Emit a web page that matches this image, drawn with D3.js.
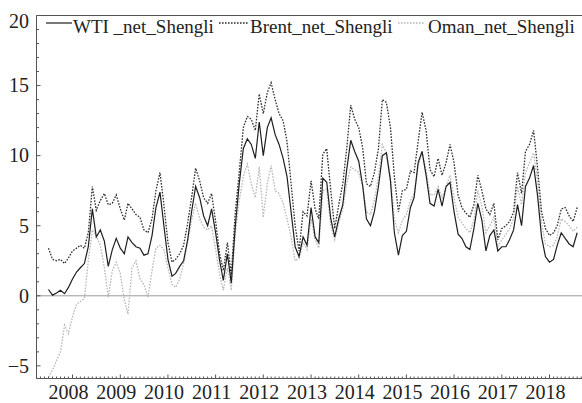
<!DOCTYPE html>
<html>
<head>
<meta charset="utf-8">
<script src="https://cdn.jsdelivr.net/npm/d3@7"></script>
<style>
	body { margin: 0; background: #fff; }
	svg { display: block; }
	text { font-family: "Liberation Serif", "Times New Roman", serif; fill: #222; }
</style>
</head>
<body>
<div id="chart"></div>
<script>
var W = 582;
var H = 403;

// monthly, Jul 2007 .. Aug 2018
var startYear = 2007;
var startMonth = 6;

var wti = [0.45, 0.05, 0.2, 0.4, 0.15, 0.6, 1.2, 1.7, 2.0, 2.3, 3.5, 6.2,
	4.2, 4.7, 3.9, 2.1, 3.3, 4.1, 3.4, 3.0, 4.2, 3.8, 3.5, 3.4,
	2.9, 3.0, 4.3, 6.3, 7.4, 5.0, 2.6, 1.4, 1.6, 2.1, 2.5, 4.0,
	6.0, 7.8, 7.0, 5.7, 5.0, 6.2, 4.5, 2.5, 1.1, 3.0, 0.9, 5.0,
	8.0, 10.5, 11.2, 10.8, 9.8, 12.4, 10.0, 12.0, 12.7, 11.5, 10.8, 9.8,
	8.5, 6.0, 3.5, 2.8, 4.2, 3.6, 6.3, 4.2, 3.8, 8.4, 8.1, 5.5,
	4.2, 5.5, 6.5, 9.0, 11.1, 10.3, 9.6, 7.8, 5.5, 5.0, 6.0, 7.8,
	10.0, 10.2, 8.2, 4.5, 2.9, 4.3, 4.6, 6.3, 7.0, 9.5, 10.3, 8.6,
	6.6, 6.4, 7.6, 6.4, 7.8, 8.1, 6.0, 4.4, 4.1, 3.5, 3.3, 4.8,
	6.6, 5.4, 3.2, 4.3, 4.7, 3.2, 3.5, 3.5, 4.0, 4.7, 6.5, 5.0,
	7.8, 8.4, 9.3, 7.2, 4.2, 2.8, 2.4, 2.6, 3.6, 4.5, 4.1, 3.7,
	3.5, 4.5];

var brent = [3.4, 2.6, 2.5, 2.6, 2.3, 2.7, 3.2, 3.4, 3.6, 3.4, 4.5, 7.8,
	6.1, 6.8, 7.3, 6.5, 6.6, 7.2, 6.2, 5.4, 6.6, 6.2, 5.8, 5.6,
	4.7, 4.5, 5.5, 7.5, 8.8, 6.5, 3.8, 2.4, 2.6, 3.0, 3.6, 5.2,
	7.0, 9.1, 8.2, 7.0, 6.6, 7.3, 5.3, 3.0, 1.8, 3.8, 1.5, 6.0,
	8.8, 12.0, 12.8, 12.6, 11.8, 14.4, 13.0, 14.5, 15.2, 14.0, 13.0, 12.5,
	11.0, 8.0, 5.0, 3.2, 6.0, 5.7, 8.2, 6.2, 5.5, 10.1, 10.5, 7.5,
	4.8, 6.5, 8.0, 10.5, 13.6, 12.6, 12.0, 10.5, 8.0, 7.8, 8.8, 10.5,
	14.0, 13.8, 12.0, 8.5, 6.0, 7.5, 7.6, 8.9, 8.8, 11.0, 13.1, 11.8,
	9.0, 8.5, 9.8, 8.6, 9.5, 10.8, 9.5, 7.2, 6.3, 5.9, 5.6, 6.5,
	8.6, 7.5, 6.2, 5.8, 6.6, 4.0, 4.8, 5.0, 5.3, 6.0, 8.8, 7.3,
	10.3, 10.8, 11.8, 9.2, 6.0, 4.8, 4.3, 4.5, 5.0, 6.2, 6.3, 5.7,
	5.3, 6.3];

var oman = [-5.8, -5.3, -4.6, -4.0, -2.1, -2.7, -1.5, -0.6, -0.4, -0.2, 2.5, 4.7,
	4.3, 3.6, 2.0, -0.1, 1.8, 2.4, 1.6, -0.3, -1.3, 2.0, 2.5, 1.2,
	0.8, -0.1, 1.8, 3.4, 3.6, 3.3, 2.0, 0.8, 0.6, 1.2, 2.3, 3.8,
	5.4, 6.6, 5.5, 4.9, 4.7, 5.0, 3.3, 1.5, 0.4, 2.0, 0.4, 4.5,
	6.8, 8.5, 9.4, 8.0, 7.0, 9.2, 5.6, 8.0, 9.3, 7.5, 7.3, 6.6,
	5.5, 4.2, 2.5, 2.7, 3.8, 3.3, 5.5, 4.0, 3.4, 7.5, 7.6, 5.0,
	4.0, 5.2, 6.2, 8.0, 9.2, 9.0, 8.8, 7.8, 6.0, 5.8, 6.8, 8.5,
	10.8, 10.2, 8.5, 5.5, 4.5, 5.4, 5.8, 6.8, 7.3, 9.2, 10.3, 9.0,
	7.2, 7.2, 7.8, 7.0, 7.8, 8.6, 7.0, 5.6, 5.2, 4.8, 4.5, 5.4,
	7.5, 6.4, 4.5, 5.0, 5.6, 3.5, 4.0, 4.4, 4.8, 5.5, 7.8, 6.5,
	8.8, 9.5, 10.2, 8.2, 5.2, 3.7, 3.5, 3.6, 4.2, 5.5, 5.3, 5.0,
	4.6, 4.9];

var seriesNames = ["WTI _net_Shengli", "Brent_net_Shengli", "Oman_net_Shengli"];
var seriesColors = ["#1e1e1e", "#2e2e2e", "#b8b8b8"];
var seriesDash = [null, "1.6,1.4", "1.6,1.4"];
var yTicks = [-5, 0, 5, 10, 15, 20];
var yearLabels = [2008, 2009, 2010, 2011, 2012, 2013, 2014, 2015, 2016, 2017, 2018];

// plot box (window.top is reserved, so prefixed names)
var pLeft = 36.5, pRight = 584, pTop = 15.5, pBottom = 378.5;

var svg = d3.select("#chart").append("svg")
	.attr("width", W)
	.attr("height", H);

var x = d3.scaleTime()
	.domain([new Date(2008, 0, 1), new Date(2018, 0, 1)])
	.range([72.5, 549.5]);

var y = d3.scaleLinear()
	.domain([-5.9, 20])
	.range([pBottom, pTop]);

function toPoints(arr) {
	return arr.map((v, i) => ({date: new Date(startYear, startMonth + i, 1), value: v}));
}
var series = [toPoints(wti), toPoints(brent), toPoints(oman)];

// zero line
svg.append("line")
	.attr("x1", pLeft).attr("x2", pRight)
	.attr("y1", y(0)).attr("y2", y(0))
	.attr("stroke", "#9a9a9a")
	.attr("stroke-width", 1);

var line = d3.line()
	.x(d => x(d.date))
	.y(d => y(d.value));

// draw grey first so darker lines sit on top
[2, 1, 0].forEach(k => {
	svg.append("path")
		.datum(series[k])
		.attr("d", line)
		.attr("fill", "none")
		.attr("stroke", seriesColors[k])
		.attr("stroke-width", k === 0 ? 1.2 : 1.3)
		.attr("stroke-dasharray", seriesDash[k]);
});

// frame
svg.append("line")
	.attr("x1", pLeft).attr("x2", pRight)
	.attr("y1", pTop).attr("y2", pTop)
	.attr("stroke", "#555").attr("stroke-width", 1);
svg.append("line")
	.attr("x1", pLeft).attr("x2", pLeft)
	.attr("y1", pTop).attr("y2", pBottom)
	.attr("stroke", "#555").attr("stroke-width", 1);
svg.append("line")
	.attr("x1", pLeft).attr("x2", pRight)
	.attr("y1", pBottom).attr("y2", pBottom)
	.attr("stroke", "#555").attr("stroke-width", 1);

// y ticks
svg.selectAll(".ymin")
	.data(d3.range(-5, 21))
	.enter()
	.append("line")
	.attr("x1", pLeft).attr("x2", d => pLeft + (d % 5 === 0 ? 4 : 2.5))
	.attr("y1", d => y(d)).attr("y2", d => y(d))
	.attr("stroke", "#555");

svg.selectAll(".ylab")
	.data(yTicks)
	.enter()
	.append("text")
	.attr("x", 29)
	.attr("y", d => Math.max(y(d), 21))
	.attr("dy", "0.34em")
	.attr("text-anchor", "end")
	.style("font-size", "20px")
	.text(d => d < 0 ? "\u2212" + Math.abs(d) : d);

// x ticks
var months = d3.timeMonth.range(x.invert(pLeft), x.invert(pRight));
svg.selectAll(".xmin")
	.data(months)
	.enter()
	.append("line")
	.attr("x1", d => x(d)).attr("x2", d => x(d))
	.attr("y1", pBottom).attr("y2", d => pBottom - (d.getMonth() === 0 ? 4 : 2))
	.attr("stroke", "#555");

svg.selectAll(".xlab")
	.data(yearLabels)
	.enter()
	.append("text")
	.attr("x", d => x(new Date(d, 0, 1)) - 4)
	.attr("y", 399)
	.attr("text-anchor", "middle")
	.style("font-size", "20px")
	.text(d => d);

// legend
var legendItems = [
	{x1: 46, x2: 72, tx: 73},
	{x1: 219, x2: 248, tx: 250},
	{x1: 398, x2: 424, tx: 428}
];
legendItems.forEach((l, k) => {
	svg.append("line")
		.attr("x1", l.x1).attr("x2", l.x2)
		.attr("y1", 23).attr("y2", 23)
		.attr("stroke", seriesColors[k])
		.attr("stroke-width", k === 0 ? 1.2 : 1.3)
		.attr("stroke-dasharray", seriesDash[k]);
	svg.append("text")
		.attr("x", l.tx)
		.attr("y", 33)
		.style("font-size", "19px")
		.text(seriesNames[k]);
});
</script>
</body>
</html>
